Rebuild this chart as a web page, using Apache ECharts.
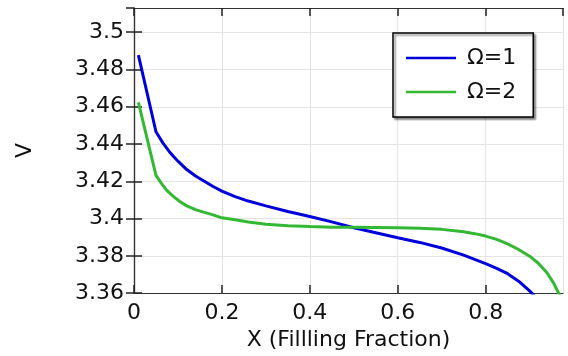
<!DOCTYPE html>
<html>
<head>
<meta charset="utf-8">
<script src="https://cdn.jsdelivr.net/npm/echarts@6/dist/echarts.min.js"></script>
<style>html,body{margin:0;padding:0;background:#fff;}#c{width:568px;height:356px;}</style>
</head>
<body>
<div id="c"></div>
<script>
var xBlue = [0.01, 0.05, 0.066, 0.08, 0.09, 0.10, 0.12, 0.14, 0.16, 0.18, 0.20, 0.23, 0.26, 0.30, 0.35, 0.40, 0.45, 0.50, 0.55, 0.60, 0.65, 0.70, 0.75, 0.80, 0.825, 0.85, 0.875, 0.90, 0.925];
var vBlue = [3.4877, 3.4466, 3.4405, 3.4360, 3.4333, 3.4308, 3.4263, 3.4228, 3.4200, 3.4172, 3.4147, 3.4118, 3.4094, 3.4068, 3.4038, 3.4011, 3.3982, 3.3951, 3.3924, 3.3897, 3.3872, 3.3842, 3.3804, 3.3758, 3.3733, 3.3704, 3.3664, 3.3612, 3.3550];
var xGreen = [0.01, 0.05, 0.062, 0.074, 0.09, 0.105, 0.12, 0.14, 0.16, 0.18, 0.20, 0.23, 0.26, 0.30, 0.35, 0.40, 0.45, 0.50, 0.55, 0.60, 0.65, 0.70, 0.75, 0.775, 0.80, 0.825, 0.85, 0.875, 0.90, 0.92, 0.94, 0.955, 0.968, 0.98];
var vGreen = [3.4624, 3.4232, 3.4190, 3.4153, 3.4118, 3.4090, 3.4068, 3.4048, 3.4033, 3.4020, 3.4004, 3.3994, 3.3982, 3.3970, 3.3962, 3.3957, 3.3954, 3.3953, 3.3952, 3.3951, 3.3948, 3.3942, 3.3929, 3.3919, 3.3906, 3.3888, 3.3864, 3.3834, 3.3798, 3.3760, 3.3708, 3.3652, 3.3590, 3.3510];
var seriesNames = ['\u03A9=1', '\u03A9=2'];
var xTicks = {min: 0, max: 0.976, interval: 0.2};
var yTicks = {min: 3.36, max: 3.513, interval: 0.02};

function pairs(xs, ys) { return xs.map(function (x, i) { return [x, ys[i]]; }); }

var font = 'DejaVu Sans';
var frameColor = '#333';
var tickStyle = {show: true, inside: true, length: 8, lineStyle: {color: '#222', width: 1.5}};
var chart = echarts.init(document.getElementById('c'), null, {renderer: 'canvas'});
chart.setOption({
  animation: false,
  backgroundColor: '#fff',
  grid: {left: 134, right: 5, top: 8, bottom: 56, containLabel: false},
  legend: {
    data: [{name: seriesNames[0], icon: 'rect'}, {name: seriesNames[1], icon: 'rect'}],
    orient: 'vertical',
    left: 393, top: 33,
    padding: [13, 17, 13, 13],
    itemWidth: 50, itemHeight: 2.5, itemGap: 10,
    backgroundColor: '#fff',
    borderColor: '#000', borderWidth: 1.5, borderRadius: 0,
    shadowColor: 'rgba(0,0,0,0.45)', shadowBlur: 2, shadowOffsetX: 2, shadowOffsetY: 2,
    textStyle: {fontFamily: font, fontSize: 22, color: '#111', lineHeight: 24, padding: [0, 0, 0, 6]}
  },
  xAxis: [{
    type: 'value', position: 'bottom',
    min: xTicks.min, max: xTicks.max, interval: xTicks.interval,
    name: 'X (Fillling Fraction)', nameLocation: 'middle', nameGap: 30,
    nameTextStyle: {fontFamily: font, fontSize: 22, color: '#111'},
    axisLine: {show: true, lineStyle: {color: frameColor, width: 1.2}},
    axisTick: tickStyle,
    axisLabel: {fontFamily: font, fontSize: 22, color: '#111', margin: 9, showMaxLabel: false},
    splitLine: {show: true, lineStyle: {color: '#e4e4e4', width: 1}}
  }, {
    type: 'value', position: 'top',
    min: xTicks.min, max: xTicks.max, interval: xTicks.interval,
    axisLine: {show: true, lineStyle: {color: frameColor, width: 1.2}},
    axisTick: tickStyle,
    axisLabel: {show: false},
    splitLine: {show: false}
  }],
  yAxis: [{
    type: 'value', position: 'left',
    min: yTicks.min, max: yTicks.max, interval: yTicks.interval,
    name: 'V', nameLocation: 'middle', nameGap: 98, nameRotate: 90,
    nameTextStyle: {fontFamily: font, fontSize: 22, color: '#111'},
    axisLine: {show: true, lineStyle: {color: frameColor, width: 1.2}},
    axisTick: tickStyle,
    axisLabel: {fontFamily: font, fontSize: 22, color: '#111', margin: 10, showMaxLabel: false},
    splitLine: {show: true, lineStyle: {color: '#e4e4e4', width: 1}}
  }, {
    type: 'value', position: 'right',
    min: yTicks.min, max: yTicks.max, interval: yTicks.interval,
    axisLine: {show: true, lineStyle: {color: frameColor, width: 1.2}},
    axisTick: tickStyle,
    axisLabel: {show: false},
    splitLine: {show: false}
  }],
  series: [{
    name: seriesNames[0], type: 'line', symbol: 'none', smooth: false,
    xAxisIndex: 0, yAxisIndex: 0,
    data: pairs(xBlue, vBlue),
    lineStyle: {color: '#0000dd', width: 3}, itemStyle: {color: '#0000dd'}
  }, {
    name: seriesNames[1], type: 'line', symbol: 'none', smooth: false,
    xAxisIndex: 0, yAxisIndex: 0,
    data: pairs(xGreen, vGreen),
    lineStyle: {color: '#33b833', width: 3}, itemStyle: {color: '#33b833'}
  }]
});
</script>
</body>
</html>
